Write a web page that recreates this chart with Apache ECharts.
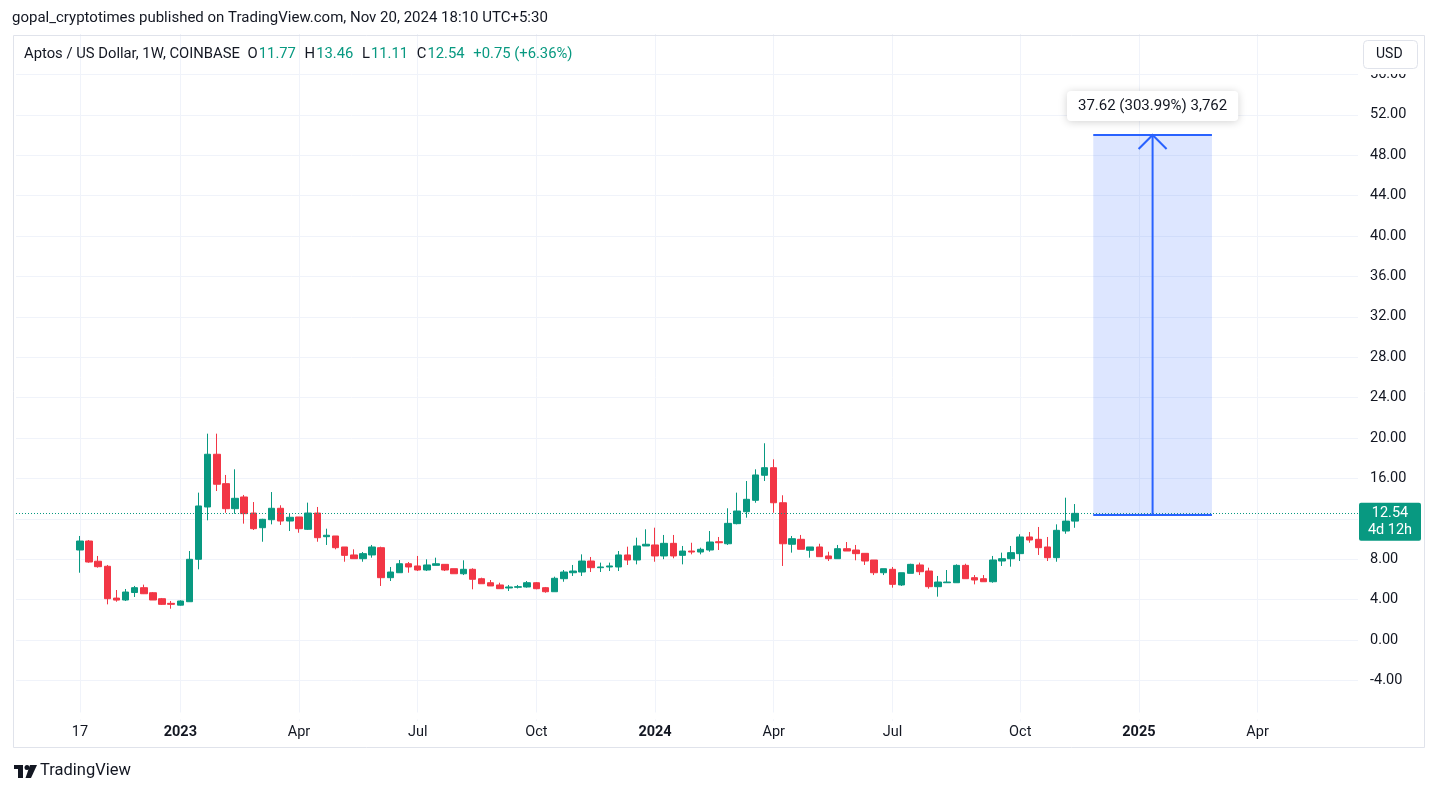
<!DOCTYPE html>
<html><head><meta charset="utf-8">
<script src="https://cdn.jsdelivr.net/npm/echarts/dist/echarts.min.js"></script>
<style>
html,body{margin:0;padding:0;background:#fff;}
#chart{width:1438px;height:792px;}
</style></head><body><div id="chart"></div>
<script>
// ---- data ----
const firstWeek = '2022-10-17';
const weeksBefore = 7;      // empty weekly slots before first candle
const weeksAfter = 31;      // empty weekly slots after last candle
const opens  = [8.91,9.80,7.80,7.30,4.15,3.96,4.70,5.18,4.68,4.09,
  3.63,3.45,3.79,7.99,13.17,18.39,15.48,13.00,14.16,12.57,
  11.12,11.91,13.04,11.78,12.18,10.96,12.57,10.23,10.30,9.21,
  8.42,8.05,8.42,9.14,6.17,6.66,7.55,7.33,6.93,7.39,
  7.49,7.06,6.56,7.00,6.07,5.67,5.45,5.15,5.22,5.25,
  5.67,5.18,4.78,6.07,6.66,6.73,7.82,7.16,7.23,7.23,
  8.42,7.92,9.31,9.41,8.32,9.57,8.38,8.81,8.71,8.91,
  9.73,9.53,11.52,12.70,13.83,16.31,17.06,13.59,9.48,9.97,
  8.88,9.21,8.32,8.05,9.04,8.91,8.58,7.92,6.66,7.00,
  5.45,6.60,7.43,6.83,5.28,5.67,5.67,7.39,6.17,6.07,
  5.77,7.82,8.05,8.55,10.20,9.97,9.21,8.15,10.79,11.77];
const closes = [9.80,7.72,7.26,4.09,3.95,4.75,5.18,4.58,3.96,3.53,
  3.53,3.86,7.99,13.27,18.39,15.42,13.00,14.03,12.51,11.02,
  11.95,13.04,11.78,12.15,11.02,12.57,10.13,10.37,9.14,8.38,
  8.05,8.55,9.21,6.17,6.73,7.55,7.23,6.93,7.43,7.55,
  6.93,6.56,7.00,6.01,5.57,5.35,5.08,5.25,5.28,5.67,
  5.08,4.78,6.11,6.73,6.83,7.82,7.16,7.23,7.33,8.42,
  7.92,9.31,9.48,8.32,9.57,8.32,8.81,8.71,8.98,9.70,
  9.63,11.55,12.77,13.93,16.34,17.06,13.59,9.53,10.03,8.98,
  9.21,8.25,8.05,9.04,8.81,8.55,7.82,6.66,7.06,5.51,
  6.66,7.49,6.76,5.28,5.74,5.74,7.39,6.07,5.94,5.77,
  7.92,8.05,8.65,10.20,9.90,9.14,8.15,10.86,11.77,12.54];
const lows   = [6.66,7.65,7.16,3.53,3.79,3.86,4.26,4.55,3.96,3.47,
  3.10,3.40,3.79,7.00,11.85,14.75,12.60,12.50,11.52,10.89,
  9.73,11.45,11.39,10.79,10.62,10.90,9.73,9.41,8.98,7.75,
  8.05,7.75,8.15,5.35,5.84,6.66,6.66,6.83,6.83,7.39,
  6.83,6.56,6.43,5.02,5.57,5.35,5.08,4.85,5.10,5.18,
  5.02,4.68,4.78,5.77,6.34,6.34,6.73,6.73,6.83,6.83,
  7.43,7.49,9.31,7.75,8.00,8.09,7.49,8.48,8.48,8.74,
  8.91,9.41,11.45,12.11,13.59,15.74,12.60,7.33,8.65,8.98,
  8.15,8.25,7.82,8.05,8.81,7.89,7.43,6.43,6.43,5.18,
  5.35,6.60,6.43,5.08,4.29,5.67,5.67,6.07,5.51,5.77,
  5.67,7.33,7.26,7.82,9.63,8.42,7.82,7.75,10.52,11.11];
const highs  = [10.30,9.90,8.32,7.43,4.95,5.05,5.35,5.48,4.75,4.16,
  3.86,3.93,8.81,14.59,20.43,20.43,16.34,16.90,14.36,13.66,
  12.00,14.65,13.34,12.50,12.18,13.60,13.17,11.02,10.30,9.21,
  8.98,8.71,9.41,9.24,7.23,7.92,7.72,8.32,7.99,8.15,
  7.49,7.06,7.89,7.10,6.17,5.94,5.67,5.45,5.45,5.84,
  5.74,5.25,6.27,6.93,7.43,8.48,8.22,7.66,7.66,8.81,
  9.24,10.13,10.96,11.12,10.40,10.40,9.31,9.63,9.14,10.79,
  10.20,13.04,14.59,15.74,16.90,19.48,17.89,14.33,10.30,10.40,
  9.21,9.53,8.74,9.41,9.70,9.41,8.58,7.92,7.06,7.23,
  6.66,7.55,7.66,7.16,6.34,6.93,7.49,7.55,6.43,6.43,
  8.32,8.65,9.31,10.47,10.69,11.19,10.20,11.45,14.09,13.46];
const tickDates  = ['2022-10-17','2023-01-02','2023-04-03','2023-07-03','2023-10-02','2024-01-01','2024-04-01','2024-07-01','2024-10-07','2025-01-06','2025-04-07'];
const tickLabels = ['17','2023','Apr','Jul','Oct','2024','Apr','Jul','Oct','2025','Apr'];
const yMin = -8, yMax = 60, yStep = 4;
const lastPrice = 12.54, countdown = '4d 12h';
const measureFrom = '2024-12-02', measureTo = '2025-03-03';
const measureLow = 12.38, measureHigh = 50.00;
const measureText = '37.62 (303.99%) 3,762';
const headerText = 'gopal_cryptotimes published on TradingView.com, Nov 20, 2024 18:10 UTC+5:30';
const symbolText = 'Aptos / US Dollar, 1W, COINBASE';
const ohlcLegend = [['O','11.77'],['H','13.46'],['L','11.11'],['C','12.54']];
const changeText = '+0.75 (+6.36%)';

// ---- build ----
const UP = '#089981', DOWN = '#f23645', TXT = '#131722', GRID = '#f0f3fa';
const FONT = 'Roboto, "Noto Sans", sans-serif';
const AX = 14.5;
function fmt(t){ return new Date(t).toISOString().slice(0,10); }
const t0 = Date.parse(firstWeek + 'T00:00:00Z');
const total = weeksBefore + opens.length + weeksAfter;
const categories = [];
for (let k = 0; k < total; k++) categories.push(fmt(t0 + (k - weeksBefore) * 7 * 86400000));
const candleData = categories.map((d, k) => {
  const i = k - weeksBefore;
  if (i < 0 || i >= opens.length) return '-';
  return [opens[i], closes[i], lows[i], highs[i]];
});
const tickSet = {};
tickDates.forEach((d, j) => tickSet[d] = tickLabels[j]);
const isTick = (idx, val) => tickSet[categories[idx]] !== undefined;

const chart = echarts.init(document.getElementById('chart'), null, {renderer: 'canvas'});
const option = {
  animation: false,
  backgroundColor: '#fff',
  grid: {left: 16, right: 80, top: 34, bottom: 71.2, containLabel: false},
  xAxis: {
    type: 'category', data: categories, boundaryGap: false,
    axisLine: {show: false}, axisTick: {show: false},
    axisLabel: {
      interval: isTick, margin: 4, color: TXT, fontSize: AX, fontFamily: FONT,
      formatter: v => {
        const l = tickSet[v];
        if (l === undefined) return '';
        return /^\d{4}$/.test(l) ? '{b|' + l + '}' : l;
      },
      rich: {b: {fontWeight: 'bold', fontSize: AX, fontFamily: FONT, color: TXT}}
    },
    splitLine: {show: true, interval: isTick, lineStyle: {color: GRID, width: 1}}
  },
  yAxis: {
    type: 'value', position: 'right', min: yMin, max: yMax, interval: yStep, scale: false,
    axisLine: {show: false}, axisTick: {show: false},
    axisLabel: {margin: 12, color: TXT, fontSize: AX, fontFamily: FONT, showMinLabel: false, showMaxLabel: false,
      formatter: v => v.toFixed(2)},
    splitLine: {show: true, showMinLine: false, showMaxLine: false, lineStyle: {color: GRID, width: 1}}
  },
  series: [
    {
      type: 'candlestick', data: candleData, barWidth: 7,
      itemStyle: {color: UP, color0: DOWN, borderColor: UP, borderColor0: DOWN, borderWidth: 1},
      markLine: {
        silent: true, symbol: ['none','none'], animation: false,
        lineStyle: {color: UP, type: [1, 2], width: 1},
        label: {
          show: true, position: 'end', distance: 1, offset: [0, 8.5],
          formatter: '{a|' + lastPrice.toFixed(2) + '}\n{a|' + countdown + '}',
          backgroundColor: UP, padding: [2, 7, 2, 7], borderRadius: 2,
          rich: {a: {color: '#fff', fontSize: AX, fontFamily: FONT, lineHeight: 17, width: 48, align: 'center'}}
        },
        emphasis: {disabled: true},
        data: [{yAxis: lastPrice}]
      }
    },
    {
      type: 'custom', silent: true, clip: false, z: 5,
      encode: {x: [0, 1], y: [2, 3]},
      data: [[categories.indexOf(measureFrom), categories.indexOf(measureTo), measureLow, measureHigh]],
      renderItem: (params, api) => {
        const p1 = api.coord([api.value(0), api.value(3)]);
        const p2 = api.coord([api.value(1), api.value(2)]);
        const x1 = p1[0], x2 = p2[0], yT = p1[1], yB = p2[1];
        const xm = (x1 + x2) / 2;
        const blue = '#2962ff';
        return {type: 'group', children: [
          {type: 'rect', shape: {x: x1, y: yT, width: x2 - x1, height: yB - yT}, style: {fill: 'rgba(41,98,255,0.16)'}},
          {type: 'line', shape: {x1: x1, y1: yT, x2: x2, y2: yT}, style: {stroke: blue, lineWidth: 2}},
          {type: 'line', shape: {x1: x1, y1: yB, x2: x2, y2: yB}, style: {stroke: blue, lineWidth: 2}},
          {type: 'line', shape: {x1: xm, y1: yB, x2: xm, y2: yT}, style: {stroke: blue, lineWidth: 2}},
          {type: 'polyline', shape: {points: [[xm - 14, yT + 14], [xm, yT], [xm + 14, yT + 14]]}, style: {stroke: blue, lineWidth: 2, fill: null}},
          {type: 'text', x: xm, y: yT - 29, style: {
            text: measureText, fill: TXT, font: '15px ' + FONT, align: 'center', verticalAlign: 'middle',
            backgroundColor: '#fff', padding: [8, 11, 7, 11], borderRadius: 4,
            shadowBlur: 8, shadowColor: 'rgba(0,0,0,0.18)', shadowOffsetY: 1}}
        ]};
      }
    }
  ],
  graphic: [
    {type: 'rect', z: 40, silent: true, shape: {x: 13, y: 712.5, width: 1345, height: 7}, style: {fill: '#fff'}},
    {type: 'rect', z: 40, silent: true, shape: {x: 1359, y: 36, width: 65, height: 38}, style: {fill: '#fff'}},
    {type: 'rect', z: 41, silent: true, shape: {x: 13.5, y: 35.5, width: 1411, height: 712, r: 0}, style: {fill: null, stroke: '#e0e3eb', lineWidth: 1}},
    {type: 'text', z: 42, left: 12, top: 11, style: {text: headerText, fill: TXT, font: '15px ' + FONT}},
    {type: 'text', z: 42, left: 24, top: 47, style: {
      text: '{s|' + symbolText + '}  ' + ohlcLegend.map(p => '{s|' + p[0] + '}{g|' + p[1] + '}').join('  ') + '  {g|' + changeText + '}',
      rich: {s: {fill: TXT, fontSize: 14.8, fontFamily: FONT, padding: [0, 1, 0, 0]},
             g: {fill: UP, fontSize: 14.8, fontFamily: FONT, padding: [0, 2, 0, 0]}}
    }},
    {type: 'rect', z: 42, silent: true, shape: {x: 1363.5, y: 40.5, width: 54, height: 28, r: 4}, style: {fill: '#fff', stroke: '#e0e3eb', lineWidth: 1}},
    {type: 'text', z: 43, left: 1376, top: 47, style: {text: 'USD', fill: TXT, font: '14px ' + FONT}},
    {type: 'rect', z: 42, shape: {x: 14, y: 765, width: 9, height: 4}, style: {fill: TXT}},
    {type: 'rect', z: 42, shape: {x: 18, y: 765, width: 5, height: 13}, style: {fill: TXT}},
    {type: 'circle', z: 42, shape: {cx: 27, cy: 767.5, r: 2.5}, style: {fill: TXT}},
    {type: 'polygon', z: 42, shape: {points: [[30, 765], [37, 765], [31, 778], [25.5, 778]]}, style: {fill: TXT}},
    {type: 'text', z: 42, left: 40, top: 762, style: {text: 'TradingView', fill: TXT, font: '16.5px ' + FONT}}
  ]
};
chart.setOption(option);
</script>
</body></html>
